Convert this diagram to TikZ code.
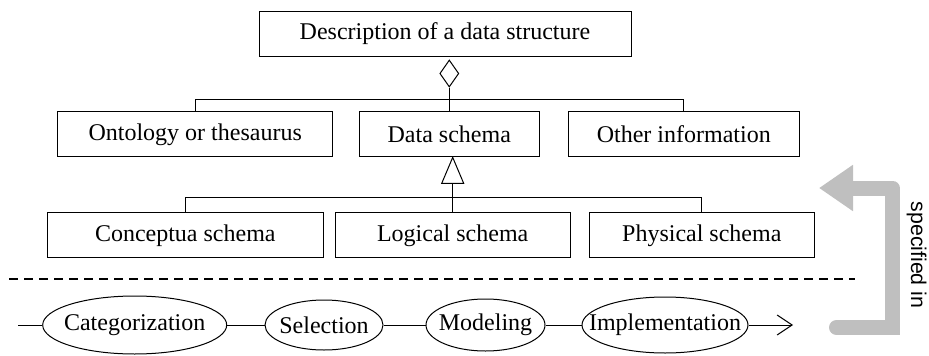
\documentclass[tikz,border=0pt]{standalone}
\usepackage{fontspec}
\setmainfont{Liberation Serif}
\newfontfamily\labelfont{Liberation Sans}
\usepackage{tikz}
\usetikzlibrary{shapes}
\usetikzlibrary{shapes.geometric}
\usetikzlibrary{arrows.meta}
\usetikzlibrary{positioning}
\tikzset{
    box/.style = {rectangle, draw=black, line width=1pt, align=center, inner sep=0pt, minimum height=45pt},
    oval/.style = {ellipse, draw=black, line width=1pt, inner sep=0pt},
}
\newcommand{\stepname}[1]{\makebox[0pt]{#1}}

\begin{document}
\begin{tikzpicture}[
	x=1pt, y=-1pt,
	line width=1pt,
	font=\fontsize{24}{28}\selectfont
]
\tikzset{
    edgen/.style = {-},
    edgea/.style = {-{Straight Barb[length=15pt,width=20pt]}},
    edged/.style = {line width=1.6pt, dash pattern=on 9pt off 6pt},
    edgeg/.style = {line width=15pt, black!25, line cap=round},
}
\useasboundingbox (0,0) rectangle (929,356);
\node[box, minimum width=372pt] at (445,33.5) (desc) {Description of a data structure};
\node[box, minimum width=275pt] at (195.2,134.4) (onto) {Ontology or thesaurus};
\node[box, minimum width=180pt] at (449.3,134.4) (data) {Data schema};
\node[box, minimum width=231pt] at (683.8,134.4) (other) {Other information};
\node[box, minimum width=276pt] at (185.3,235.3) (conc) {Conceptua schema};
\node[box, minimum width=235pt] at (452.7,235.3) (logi) {Logical schema};
\node[box, minimum width=225pt] at (701.8,235.3) (phys) {Physical schema};
%
\node[diamond, draw, minimum width=19pt, minimum height=27pt, inner sep=0pt] at (449.3,73.5) (agg) {};
\coordinate (bus1) at (449.3,99.3);
\coordinate (bus2) at (452.7,197.3);
\draw[edgen] (agg.south) -- (data.north);
\draw[edgen] (onto.north) |- (bus1) -| (other.north);
%
\path (logi.north |- data.south) coordinate (apex) ++(0,26) coordinate (gen);
\draw (apex) -- ++(-11,26) -- ++(22,0) -- cycle;
\draw[edgen] (gen) -- (logi.north);
\draw[edgen] (conc.north) |- (bus2) -| (phys.north);
%
\coordinate (dl) at (9,279);
\coordinate (dr) at (855,279);
\draw[edged] (dl) -- (dr);
%
\node[oval, minimum width=184pt, minimum height=58pt] at (134.7,325) (cat) {\stepname{Categorization}};
\node[oval, minimum width=118pt, minimum height=50pt] at (324,325) (sel) {\stepname{Selection}};
\node[oval, minimum width=119pt, minimum height=52pt] at (485.5,325) (mod) {\stepname{Modeling}};
\node[oval, minimum width=166pt, minimum height=56pt] at (665,325) (impl) {\stepname{Implementation}};
\coordinate (start) at (18,325);
\coordinate (end) at (793,325);
\draw[edgen] (start) -- (cat);
\draw[edgen] (cat) -- (sel);
\draw[edgen] (sel) -- (mod);
\draw[edgen] (mod) -- (impl);
\draw[edgea] (impl) -- (end);
%
\coordinate (g1) at (836.5,327.5);
\coordinate (g2) at (892.5,327.5);
\coordinate (g23) at (892.5,260);
\coordinate (g3) at (892.5,188);
\coordinate (g4) at (819,188);
\draw[edgeg, line cap=butt] (g1) -- (g2) -- (g23);
\draw[edgeg, line cap=round] (g1) -- ++(1,0);
\draw[edgeg, line join=round, -{Triangle[length=34pt,width=44pt]}] (g23) -- (g3) -- (g4);
\node[font=\labelfont\fontsize{21.3}{24}\selectfont, rotate=-90] at (916.5,255) (spec) {specified in};
\end{tikzpicture}
\end{document}
